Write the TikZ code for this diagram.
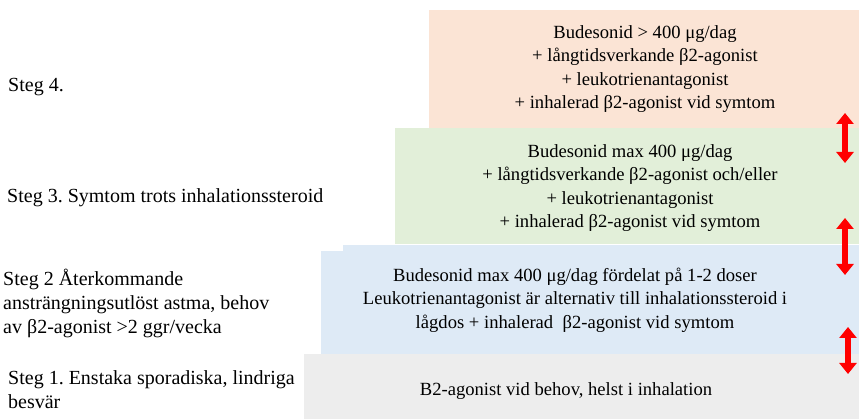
\documentclass[tikz,border=0pt]{standalone}
\usepackage{fontspec}
\setmainfont{Liberation Serif}
\usetikzlibrary{arrows.meta}
\definecolor{c4}{HTML}{FBE4D5}
\definecolor{c3}{HTML}{E2EFD9}
\definecolor{c2}{HTML}{DEEAF6}
\definecolor{c1}{HTML}{EDEDED}
\definecolor{arr}{HTML}{FF0000}
\frenchspacing
\begin{document}
\begin{tikzpicture}[x=1pt,y=-1pt,
  txt/.style={font=\fontsize{18.6}{23.6}\selectfont, inner sep=0pt, align=center},
  lbl/.style={font=\fontsize{20}{23.6}\selectfont, inner sep=0pt, align=left, anchor=west},
  dbl/.style={draw=arr, line width=5.5pt, {Triangle[width=17pt,length=11pt]}-{Triangle[width=17pt,length=11pt]}}
]
\useasboundingbox (0,0) rectangle (859,419);
% boxes
\fill[c4] (429,10) rectangle (859,128);
\fill[c3] (395,128) rectangle (859,244);
\fill[c2] (343,245) rectangle (859,252);
\fill[c2] (321,251) rectangle (859,354);
\fill[c1] (304,354) rectangle (859,419);
% box texts
\node[txt] (t4) at (645,69) {Budesonid > 400 μg/dag\\+ långtidsverkande β2-agonist\\+ leukotrienantagonist\\+ inhalerad β2-agonist vid symtom};
\node[txt] (t3) at (630,188) {Budesonid max 400 μg/dag\\+ långtidsverkande β2-agonist och/eller\\+ leukotrienantagonist\\+ inhalerad β2-agonist vid symtom};
\node[txt] (t2) at (575,300) {Budesonid max 400 μg/dag fördelat på 1-2 doser\\Leukotrienantagonist är alternativ till inhalationssteroid i\\lågdos + inhalerad\ \ β2-agonist vid symtom};
\node[txt] (t1) at (566,391) {B2-agonist vid behov, helst i inhalation};
% left labels
\node[lbl] (s4) at (8,87) {Steg 4.};
\node[lbl] (s3) at (7,198) {Steg 3. Symtom trots inhalationssteroid};
\node[lbl] (s2) at (3,303.5) {Steg 2 Återkommande\\ansträngningsutlöst astma, behov\\av β2-agonist >2 ggr/vecka};
\node[lbl] (s1) at (8,389.5) {Steg 1. Enstaka sporadiska, lindriga\\besvär};
% arrows
\coordinate (a1t) at (845,113);
\coordinate (a1b) at (845,163);
\coordinate (a2t) at (845,218);
\coordinate (a2b) at (845,275);
\coordinate (a3t) at (848,327);
\coordinate (a3b) at (848,374);
\draw[dbl] (a1t) -- (a1b);
\draw[dbl] (a2t) -- (a2b);
\draw[dbl] (a3t) -- (a3b);
\end{tikzpicture}
\end{document}
